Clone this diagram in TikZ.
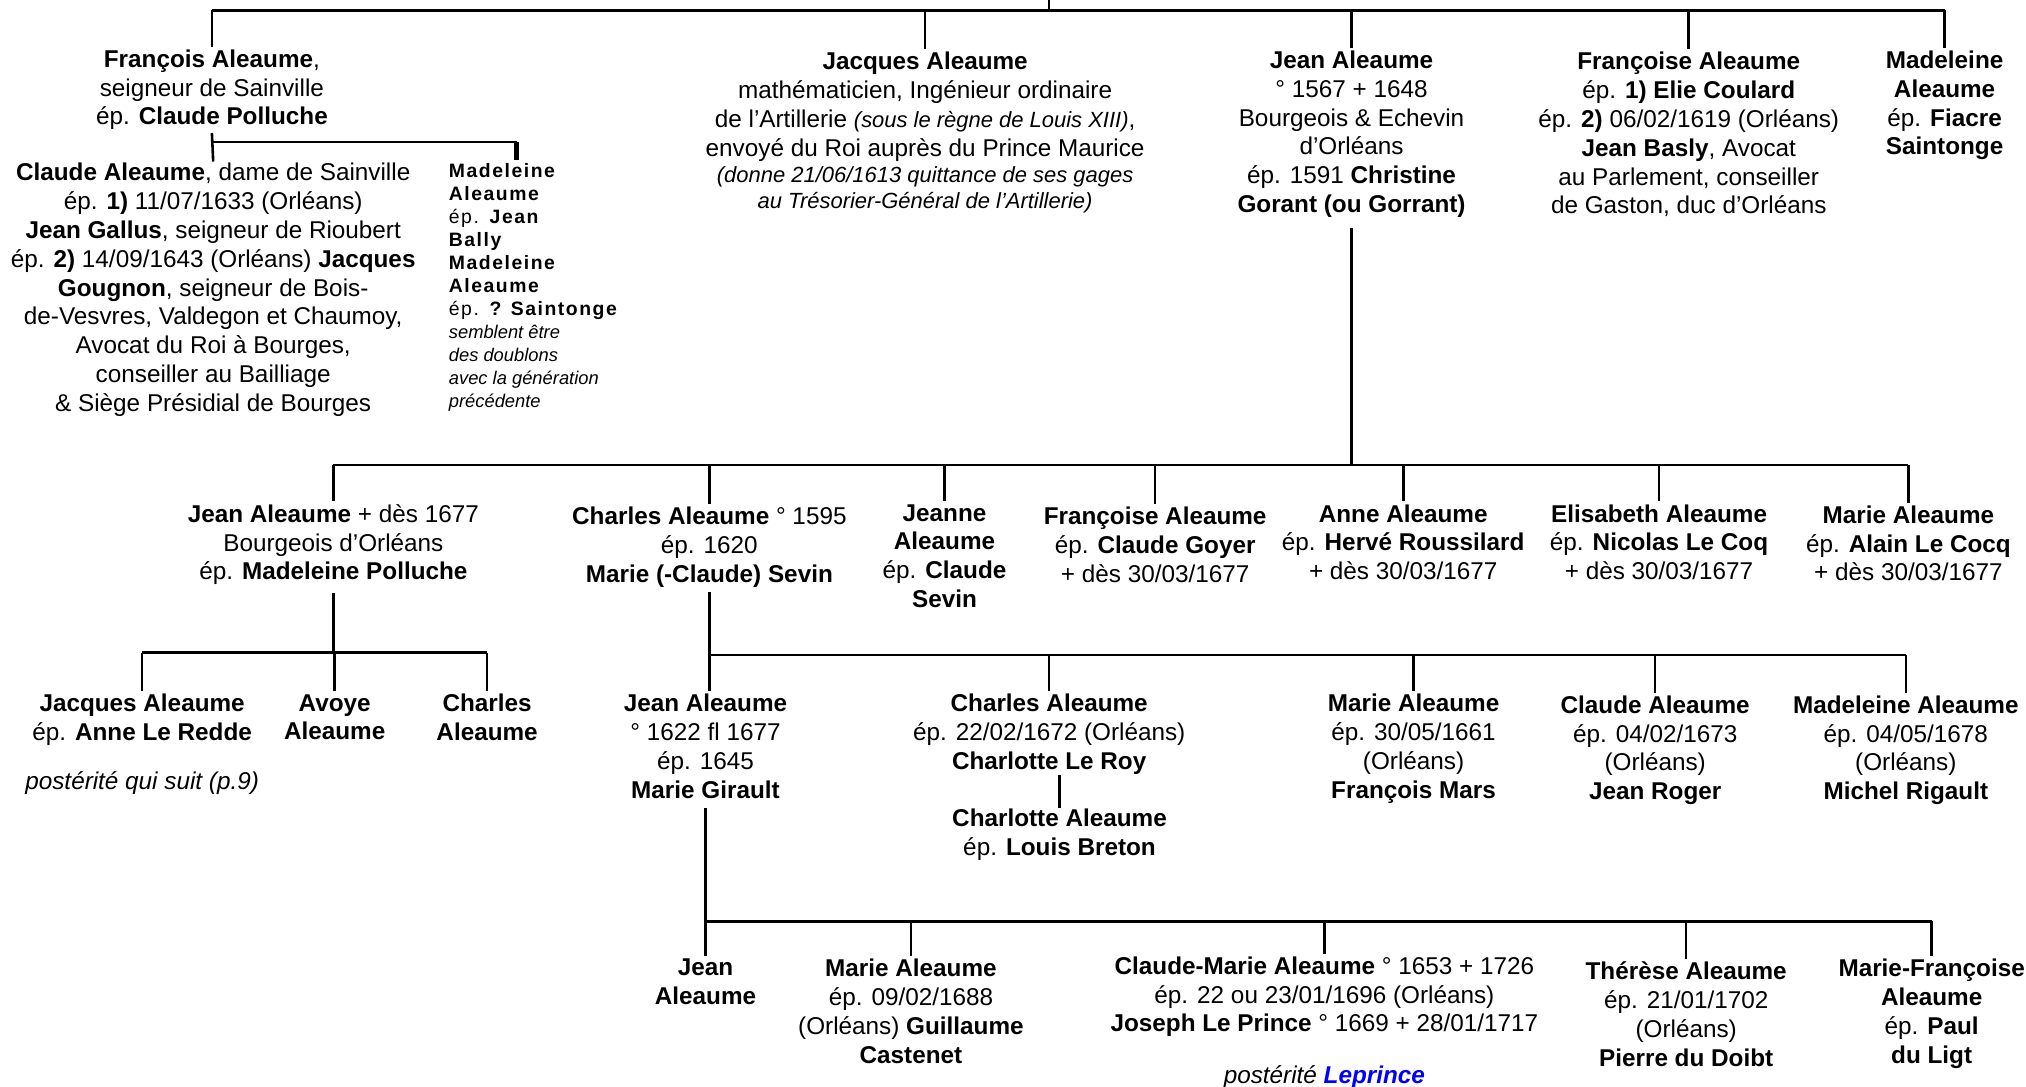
\documentclass[tikz,border=0pt]{standalone}
\usepackage{fontspec}
\setmainfont{Liberation Sans}
\newfontfamily\spacedf[LetterSpace=8]{Liberation Sans}
\newfontfamily\plainf{Liberation Sans}
\usetikzlibrary{calc}
\newcommand{\B}[1]{\textbf{#1}}
\newcommand{\I}[1]{{\itshape #1}}
\newcommand{\Is}[1]{{\itshape\fontsize{8.5}{10.5}\selectfont #1}}
\newcommand{\mainsz}{\fontsize{9.4}{11.15}\selectfont}
\newcommand{\smit}[1]{{\plainf\itshape\fontsize{7.1}{8.9}\selectfont #1}}
\definecolor{lnkblue}{RGB}{0,0,255}
\tikzset{
  person/.style={align=center, inner sep=0pt, anchor=north, font=\mainsz},
  link/.style={line width=1pt},
  thicklink/.style={line width=2pt}
}
\begin{document}
\begin{tikzpicture}[x=0.5pt,y=-0.5pt]
\useasboundingbox (0,0) rectangle (1568,841);

% ---------- generation 1 ----------
\node[person] (fa) at (164,38) {\B{François Aleaume},\\ seigneur de Sainville\\ ép. \B{Claude Polluche}};
\node[person] (ja) at (716,40) {\B{Jacques Aleaume}\\ mathématicien, Ingénieur ordinaire\\ de l’Artillerie \Is{(sous le règne de Louis XIII)},\\ envoyé du Roi auprès du Prince Maurice\\[-1pt] \Is{(donne 21/06/1613 quittance de ses gages}\\[-1pt] \Is{au Trésorier-Général de l’Artillerie)}};
\node[person] (je) at (1046,39) {\B{Jean Aleaume}\\ ° 1567 + 1648\\ Bourgeois \& Echevin\\ d’Orléans\\ ép. 1591 \B{Christine}\\ \B{Gorant (ou Gorrant)}};
\node[person] (fr) at (1307,40) {\B{Françoise Aleaume}\\ ép. \B{1) Elie Coulard}\\ ép. \B{2)} 06/02/1619 (Orléans)\\ \B{Jean Basly}, Avocat\\ au Parlement, conseiller\\ de Gaston, duc d’Orléans};
\node[person] (md) at (1505,39) {\B{Madeleine}\\ \B{Aleaume}\\ ép. \B{Fiacre}\\ \B{Saintonge}};

\coordinate (top) at (812,0);
\coordinate (b1) at (812,8);
\draw[link] (top) -- (b1);
\draw[link] (fa.north |- b1) -- (md.north |- b1);
\foreach \n in {fa,ja,je,fr,md} \draw[link] (\n.north |- b1) -- ([yshift=1pt]\n.north);

% ---------- children of François ----------
\node[person] (ca) at (165,126) {\B{Claude Aleaume}, dame de Sainville\\ ép. \B{1)} 11/07/1633 (Orléans)\\ \B{Jean Gallus}, seigneur de Rioubert\\ ép. \B{2)} 14/09/1643 (Orléans) \B{Jacques}\\ \B{Gougnon}, seigneur de Bois-\\ de-Vesvres, Valdegon et Chaumoy,\\ Avocat du Roi à Bourges,\\ conseiller au Bailliage\\ \& Siège Présidial de Bourges};
\node[align=left, inner sep=0pt, anchor=north west, font=\spacedf\fontsize{7.5}{8.9}\selectfont] (mb) at (347,126) {\B{Madeleine}\\ \B{Aleaume}\\ ép. \B{Jean}\\ \B{Bally}\\ \B{Madeleine}\\ \B{Aleaume}\\ ép. \B{? Saintonge}\\ \smit{semblent être}\\ \smit{des doublons}\\ \smit{avec la génération}\\ \smit{précédente}};

\coordinate (b2) at (164,110);
\coordinate (mbtop) at (400,124);
\draw[link] (fa.south) ++(0,2) -- ([yshift=0.5pt]ca.north);
\draw[link] (b2) -- (mbtop |- b2);
\draw[thicklink] (mbtop |- b2) -- (mbtop);

% ---------- generation 2 ----------
\node[person] (jn) at (258,390) {\B{Jean Aleaume} + dès 1677\\ Bourgeois d’Orléans\\ ép. \B{Madeleine Polluche}};
\node[person] (ch) at (549,392) {\B{Charles Aleaume} ° 1595\\ ép. 1620\\ \B{Marie (-Claude) Sevin}};
\node[person] (jne) at (731,390) {\B{Jeanne}\\ \B{Aleaume}\\ ép. \B{Claude}\\ \B{Sevin}};
\node[person] (fg) at (894,392) {\B{Françoise Aleaume}\\ ép. \B{Claude Goyer}\\ + dès 30/03/1677};
\node[person] (an) at (1086,390) {\B{Anne Aleaume}\\ ép. \B{Hervé Roussilard}\\ + dès 30/03/1677};
\node[person] (el) at (1284,390) {\B{Elisabeth Aleaume}\\ ép. \B{Nicolas Le Coq}\\ + dès 30/03/1677};
\node[person] (ma) at (1477,391) {\B{Marie Aleaume}\\ ép. \B{Alain Le Cocq}\\ + dès 30/03/1677};

\coordinate (b3) at (1046,360);
\draw[link] (je.south) ++(0,8) -- (b3);
\draw[link] (jn.north |- b3) -- (ma.north |- b3);
\foreach \n in {jn,ch,jne,fg,an,el,ma} \draw[link] (\n.north |- b3) -- ([yshift=1pt]\n.north);

% ---------- children of Jean (+1677) ----------
\node[person] (jq) at (110,537) {\B{Jacques Aleaume}\\ ép. \B{Anne Le Redde}};
\node[person, font=\mainsz\itshape] (ps1) at (110,597) {postérité qui suit (p.9)};
\node[person] (av) at (259,537) {\B{Avoye}\\ \B{Aleaume}};
\node[person] (cl) at (377,537) {\B{Charles}\\ \B{Aleaume}};

\coordinate (b4) at (258,505);
\draw[link] (jn.south) ++(0,6) -- (b4);
\draw[link] (jq.north |- b4) -- (cl.north |- b4);
\foreach \n in {jq,av,cl} \draw[link] (\n.north |- b4) -- ([yshift=1pt]\n.north);

% ---------- children of Charles ----------
\node[person] (j3) at (546,537) {\B{Jean Aleaume}\\ ° 1622 fl 1677\\ ép. 1645\\ \B{Marie Girault}};
\node[person] (c3) at (812,537) {\B{Charles Aleaume}\\ ép. 22/02/1672 (Orléans)\\ \B{Charlotte Le Roy}};
\node[person] (cha) at (820,626) {\B{Charlotte Aleaume}\\ ép. \B{Louis Breton}};
\node[person] (m3) at (1094,537) {\B{Marie Aleaume}\\ ép. 30/05/1661\\ (Orléans)\\ \B{François Mars}};
\node[person] (cd3) at (1281,538) {\B{Claude Aleaume}\\ ép. 04/02/1673\\ (Orléans)\\ \B{Jean Roger}};
\node[person] (mad3) at (1475,538) {\B{Madeleine Aleaume}\\ ép. 04/05/1678\\ (Orléans)\\ \B{Michel Rigault}};

\coordinate (b5) at (549,507);
\draw[link] (ch.south) ++(0,3) -- (b5);
\draw[link] (b5) -- (mad3.north |- b5);
\draw[link] (b5) -- ([yshift=1pt]b5 |- j3.north);
\foreach \n in {c3,m3,cd3,mad3} \draw[link] (\n.north |- b5) -- ([yshift=1pt]\n.north);
\draw[link] (cha.north |- c3.south) -- ([yshift=0.5pt]cha.north);

% ---------- children of Jean (1622) ----------
\node[person] (j4) at (546,742) {\B{Jean}\\ \B{Aleaume}};
\node[person] (m4) at (705,742) {\B{Marie Aleaume}\\ ép. 09/02/1688\\ (Orléans) \B{Guillaume}\\ \B{Castenet}};
\node[person] (cm4) at (1025,740) {\B{Claude-Marie Aleaume} ° 1653 + 1726\\ ép. 22 ou 23/01/1696 (Orléans)\\ \B{Joseph Le Prince} ° 1669 + 28/01/1717};
\node[person, font=\mainsz\itshape] (ps2) at (1025,824) {postérité \textcolor{lnkblue}{\bfseries Leprince}};
\node[person] (t4) at (1305,744) {\B{Thérèse Aleaume}\\ ép. 21/01/1702\\ (Orléans)\\ \B{Pierre du Doibt}};
\node[person] (mf4) at (1495,742) {\B{Marie-Françoise}\\ \B{Aleaume}\\ ép. \B{Paul}\\ \B{du Ligt}};

\coordinate (b6) at (546,713);
\draw[link] (j3.south) ++(0,7) -- (b6);
\draw[link] (b6) -- (mf4.north |- b6);
\foreach \n in {j4,m4,cm4,t4,mf4} \draw[link] (\n.north |- b6) -- ([yshift=1pt]\n.north);
\end{tikzpicture}
\end{document}
